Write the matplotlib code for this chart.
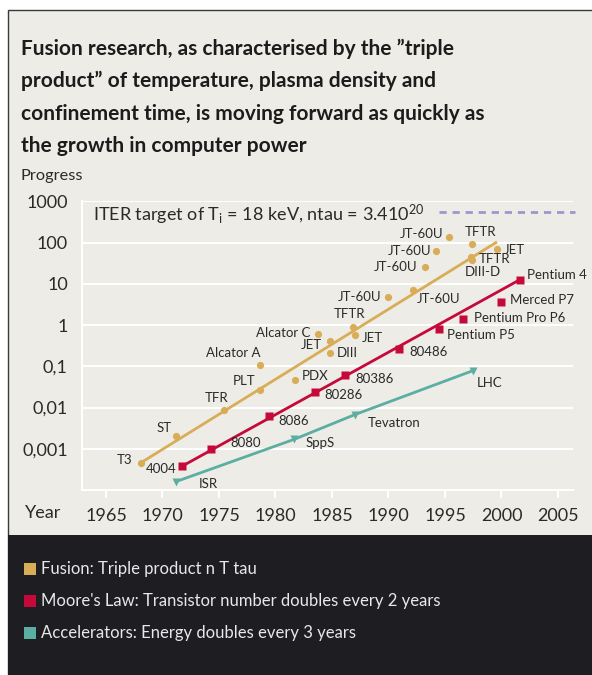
import matplotlib
matplotlib.use('Agg')
import matplotlib.pyplot as plt
from matplotlib.patches import Rectangle

FONT = 'Lato'
plt.rcParams['font.family'] = [FONT, 'DejaVu Sans']
plt.rcParams['mathtext.fontset'] = 'custom'
plt.rcParams['mathtext.rm'] = FONT
plt.rcParams['mathtext.it'] = FONT + ':italic'
plt.rcParams['mathtext.bf'] = FONT + ':bold'

# ---------------- data ----------------
title_lines = [
    "Fusion research, as characterised by the \u201dtriple",
    "product\u201d of temperature, plasma density and",
    "confinement time, is moving forward as quickly as",
    "the growth in computer power",
]

fusion_names = ['T3', 'ST', 'TFR', 'PLT', 'Alcator A', 'PDX', 'Alcator C', 'JET', 'DIII',
                'TFTR', 'JET', 'JT-60U', 'JT-60U', 'JT-60U', 'JT-60U', 'JT-60U',
                'TFTR', 'TFTR', 'DIII-D', 'JET']
fusion_years = [1968.1, 1971.2, 1975.4, 1978.6, 1978.6, 1981.7, 1983.8, 1984.8, 1984.8,
                1986.9, 1987.0, 1990.0, 1992.2, 1993.2, 1994.2, 1995.35,
                1997.35, 1997.3, 1997.4, 1999.6]
fusion_values = [4.6e-4, 2.0e-3, 8.9e-3, 0.026, 0.11, 0.047, 0.62, 0.40, 0.21,
                 0.89, 0.58, 4.9, 7.2, 25, 64, 140,
                 91, 46, 38, 69]
fusion_trend_years = [1968.1, 1999.5]
fusion_trend_values = [4.6e-4, 100]

moore_names = ['4004', '8080', '8086', '80286', '80386', '80486',
               'Pentium P5', 'Pentium Pro P6', 'Merced P7', 'Pentium 4']
moore_years = [1971.75, 1974.3, 1979.4, 1983.5, 1986.15, 1990.9, 1994.5, 1996.6, 2000.0, 2001.6]
moore_values = [3.8e-4, 1.0e-3, 6.1e-3, 0.024, 0.063, 0.27, 0.81, 1.4, 3.7, 12.5]
moore_trend_years = [1971.75, 2001.6]
moore_trend_values = [3.8e-4, 12.5]

accel_names = ['ISR', 'SppS', 'Tevatron', 'LHC']
accel_years = [1971.2, 1981.67, 1987.0, 1997.45]
accel_values = [1.6e-4, 1.7e-3, 6.7e-3, 0.078]

iter_years = [1994.5, 2006.5]
iter_values = [550, 550]

y_ticks = [1e-3, 1e-2, 1e-1, 1, 10, 100, 1000]
y_ticklabels = ['0,001', '0,01', '0,1', '1', '10', '100', '1000']
x_ticks = [1965, 1970, 1975, 1980, 1985, 1990, 1995, 2000, 2005]

legend_labels = ['Fusion: Triple product n T tau',
                 "Moore's Law: Transistor number doubles every 2 years",
                 'Accelerators: Energy doubles every 3 years']

# ---------------- label placement (pixels: ha, dx, dy up) ----------------
fusion_lab = [('right', -9, 3), ('right', -4, 8), ('center', -7, 12), ('right', -4, 9),
              ('right', 1, 12), ('left', 7, 4), ('right', -8, 1), ('right', -8, -4),
              ('left', 7, 0), ('center', -4, 13), ('left', 7, -3), ('right', -7, 0),
              ('left', 3, -9), ('right', -7, 0), ('right', -5, 0), ('right', -6, 3),
              ('center', 9, 12), ('left', 8, -2), ('center', 11, -12), ('left', 7, -1)]
moore_lab = [('right', -6, -3), ('left', 19, 6), ('left', 10, -5), ('left', 9, -3),
             ('left', 10, -4), ('left', 11, -3), ('left', 8, -6), ('left', 11, 1),
             ('left', 9, 2), ('left', 7, 5)]
accel_lab = [('left', 23, -2), ('left', 11, -4), ('left', 13, -8), ('left', 4, -12)]

GOLD = '#d9ad57'
RED = '#c5093b'
TEAL = '#5cada2'
PANEL = '#edece6'
DARK = '#1e1e22'
TXT = '#2a2a2a'

W, H = 592, 675
fig = plt.figure(figsize=(W / 100, H / 100), dpi=100, facecolor='white')

# panel backgrounds
fig.patches.append(Rectangle((8 / W, 0), 1, (H - 10) / H, transform=fig.transFigure,
                             facecolor=PANEL, edgecolor='#3a3a3a', lw=1.0, zorder=-10))
fig.patches.append(Rectangle((8 / W, 0), 1, (H - 535) / H, transform=fig.transFigure,
                             facecolor=DARK, edgecolor='none', zorder=-9))

# title
for i, line in enumerate(title_lines):
    fig.text(21 / W, 1 - (55 + 32.3 * i) / H, line, fontsize=15, fontweight='bold',
             color='#1c1c1c', va='baseline', ha='left')
fig.text(21 / W, 1 - 180 / H, 'Progress', fontsize=11.8, color=TXT, va='baseline')
fig.text(25 / W, 1 - 513 / H, 'Year', fontsize=13, color=TXT, va='center')

ax = fig.add_axes([81.7 / W, 185 / H, (573 - 81.7) / W, 288.6 / H])
ax.set_facecolor('none')
ax.set_yscale('log')
ax.set_xlim(1962.85, 2006.33)
ax.set_ylim(1e-4, 1e3)
ax.set_yticks(y_ticks)
ax.set_yticklabels(y_ticklabels)
ax.minorticks_off()
ax.set_xticks(x_ticks)
ax.tick_params(axis='y', length=0, pad=10, labelsize=13, labelcolor=TXT)
ax.tick_params(axis='x', length=6, width=1.5, color='white', pad=7, labelsize=13,
               labelcolor=TXT, direction='out')
ax.yaxis.grid(True, color='white', lw=1.5)
for s in ['top', 'right']:
    ax.spines[s].set_visible(False)
for s in ['left', 'bottom']:
    ax.spines[s].set_color('white')
    ax.spines[s].set_linewidth(1.5)

# ITER target
ax.plot(iter_years, iter_values, color='#9c97cf', lw=2, dashes=(2.6, 2.1), clip_on=False)
ax.text(0.0224, 0.953, 'ITER target of T$_{\\mathrm{i}}$ = 18 keV, ntau = 3.410$^{20}$',
        transform=ax.transAxes, fontsize=13, color=TXT, va='center', ha='left')

# trend lines
ax.plot(fusion_trend_years, fusion_trend_values, color=GOLD, lw=2, zorder=3)
ax.plot(moore_trend_years, moore_trend_values, color=RED, lw=2, zorder=3)
ax.plot(accel_years, accel_values, color=TEAL, lw=2, zorder=3)

# markers
ax.plot(fusion_years, fusion_values, 'o', color=GOLD, ms=5.2, mec='none', zorder=4)
ax.plot(moore_years, moore_values, 's', color=RED, ms=6.2, mec='none', zorder=4)
ax.plot(accel_years, accel_values, 'v', color=TEAL, ms=5.5, mec='none', zorder=4)

def label(names, xs, ys, specs):
    for n, x, y, (ha, dx, dy) in zip(names, xs, ys, specs):
        ax.annotate(n, (x, y), xytext=(dx, dy), textcoords='offset pixels',
                    ha=ha, va='center', fontsize=9.5, color=TXT, zorder=5,
                    annotation_clip=False)

label(fusion_names, fusion_years, fusion_values, fusion_lab)
label(moore_names, moore_years, moore_values, moore_lab)
label(accel_names, accel_years, accel_values, accel_lab)

# legend in dark band
for i, (lab, col) in enumerate(zip(legend_labels, [GOLD, RED, TEAL])):
    yc = 569.3 + 32 * i
    fig.patches.append(Rectangle((24 / W, 1 - (yc + 6) / H), 12 / W, 12 / H,
                                 transform=fig.transFigure, facecolor=col, edgecolor='none'))
    fig.text(41 / W, 1 - yc / H, lab, fontsize=12, color='#e8e8e8', va='center', ha='left')

fig.savefig('out.png', dpi=100, facecolor='white')
